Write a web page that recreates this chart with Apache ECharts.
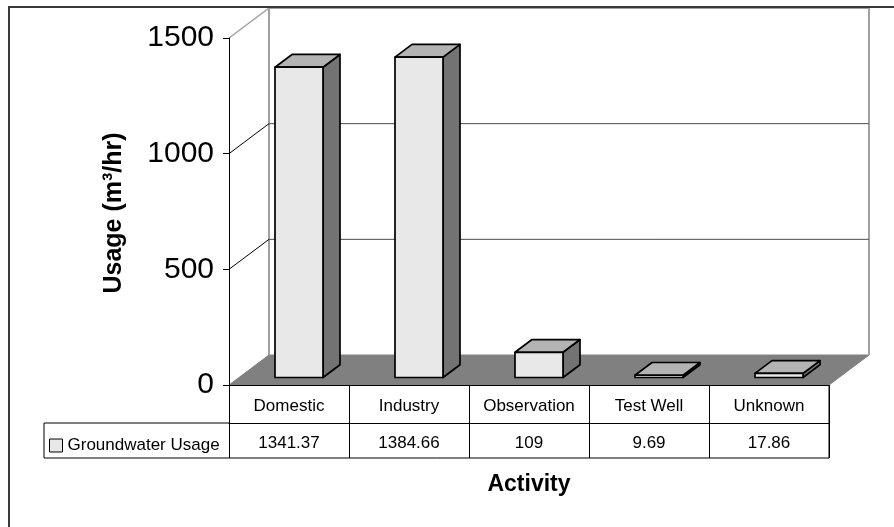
<!DOCTYPE html>
<html>
<head>
<meta charset="utf-8">
<title>Groundwater Usage by Activity</title>
<script src="https://cdn.jsdelivr.net/npm/echarts@6/dist/echarts.min.js"></script>
<style>
  html, body { margin: 0; padding: 0; background: #fff; }
  #chart { width: 894px; height: 527px; }
</style>
</head>
<body>
<div id="chart"></div>
<script>
// Data
const categories = ['Domestic', 'Industry', 'Observation', 'Test Well', 'Unknown'];
const usage = [1341.37, 1384.66, 109, 9.69, 17.86];
const usageLabels = ['1341.37', '1384.66', '109', '9.69', '17.86'];
const yTicks = [0, 500, 1000, 1500];
const seriesName = 'Groundwater Usage';

// 3D look: depth offset of the back wall, and where the columns sit in that depth
const DX = 40, DY = -30;
const FRONT = 0.25, BACK = 0.675;
const BAR_FRAC = 0.4;
const FONT = '"Liberation Sans", Arial, sans-serif';

const chart = echarts.init(document.getElementById('chart'), null, { renderer: 'canvas' });

function line(x1, y1, x2, y2, stroke, width) {
  return { type: 'line', shape: { x1, y1, x2, y2 }, style: { stroke, lineWidth: width }, silent: true };
}

// Floor, back wall, side-wall rungs and back gridlines
function renderWalls(params, api) {
  const bw = api.size([1, 0])[0];
  const p0 = api.coord([0, yTicks[0]]);
  const left = p0[0] - bw / 2;
  const right = api.coord([categories.length - 1, yTicks[0]])[0] + bw / 2;
  const y0 = p0[1];
  const yMax = api.coord([0, yTicks[yTicks.length - 1]])[1];
  const children = [];
  children.push({
    type: 'polygon',
    shape: { points: [[left, y0], [right, y0], [right + DX, y0 + DY], [left + DX, y0 + DY]] },
    style: { fill: '#808080', stroke: '#808080', lineWidth: 1 },
    silent: true
  });
  // back wall outline
  children.push(line(left + DX, yMax + DY, left + DX, y0 + DY, '#a0a0a0', 2));
  children.push(line(right + DX, yMax + DY, right + DX, y0 + DY, '#a0a0a0', 2));
  children.push(line(left + DX, yMax + DY, right + DX, yMax + DY, '#a0a0a0', 2));
  children.push(line(left, yMax, left + DX, yMax + DY, '#a0a0a0', 1.5));
  yTicks.slice(1, -1).forEach(t => {
    const yt = api.coord([0, t])[1];
    children.push(line(left, yt, left + DX, yt + DY, '#000', 1));
    children.push(line(left + DX, yt + DY, right + DX, yt + DY, '#4a4a4a', 1));
  });
  return { type: 'group', children };
}

// 3D columns: front, top and right-side faces
function renderBars(params, api) {
  const i = api.value(0);
  const v = api.value(1);
  const bw = api.size([1, 0])[0];
  const w = bw * BAR_FRAC;
  const base = api.coord([i, 0]);
  const top = api.coord([i, v]);
  const xL = base[0] - w / 2 + FRONT * DX;
  const xR = xL + w;
  const yB = base[1] + FRONT * DY;
  const yT = top[1] + FRONT * DY;
  const bdx = (BACK - FRONT) * DX, bdy = (BACK - FRONT) * DY;
  const edge = { stroke: '#000', lineWidth: 1.7, lineJoin: 'round' };
  return {
    type: 'group',
    children: [
      { type: 'polygon', shape: { points: [[xR, yB], [xR + bdx, yB + bdy], [xR + bdx, yT + bdy], [xR, yT]] },
        style: Object.assign({ fill: '#737373' }, edge) },
      { type: 'polygon', shape: { points: [[xL, yT], [xR, yT], [xR + bdx, yT + bdy], [xL + bdx, yT + bdy]] },
        style: Object.assign({ fill: '#b3b3b3' }, edge) },
      { type: 'polygon', shape: { points: [[xL, yB], [xR, yB], [xR, yT], [xL, yT]] },
        style: Object.assign({ fill: '#e8e8e8' }, edge) }
    ]
  };
}

const option = {
  animation: false,
  backgroundColor: '#fff',
  textStyle: { fontFamily: FONT, color: '#000' },
  grid: { left: 229, right: 65, top: 38, bottom: 142, containLabel: false },
  legend: {
    data: [seriesName],
    left: 49, top: 437,
    padding: 0,
    icon: 'rect',
    itemWidth: 13, itemHeight: 13,
    itemStyle: { color: '#e8e8e8', borderColor: '#000', borderWidth: 1 },
    textStyle: { fontFamily: FONT, fontSize: 17, color: '#000' },
    selectedMode: false
  },
  xAxis: [
    {
      type: 'category',
      data: categories,
      position: 'bottom',
      z: 5,
      axisLine: { show: true, lineStyle: { color: '#000', width: 1 } },
      axisTick: { show: true, interval: 0, length: 73, lineStyle: { color: '#000', width: 1 } },
      axisLabel: { interval: 0, margin: 13, fontSize: 17, color: '#000', fontFamily: FONT },
      splitLine: { show: false }
    },
    {
      type: 'category',
      data: usageLabels,
      position: 'bottom',
      offset: 38,
      z: 5,
      axisLine: { show: true, lineStyle: { color: '#000', width: 1 } },
      axisTick: { show: false },
      axisLabel: { interval: 0, margin: 12, fontSize: 17, color: '#000', fontFamily: FONT },
      splitLine: { show: false }
    }
  ],
  yAxis: {
    type: 'value',
    min: yTicks[0],
    max: yTicks[yTicks.length - 1],
    interval: yTicks[1] - yTicks[0],
    z: 5,
    axisLine: { show: true, lineStyle: { color: '#000', width: 1 } },
    axisTick: { show: true, length: 6, lineStyle: { color: '#000', width: 1 } },
    axisLabel: { margin: 15, fontSize: 30, color: '#000', fontFamily: FONT, formatter: v => String(v) },
    splitLine: { show: false }
  },
  graphic: [
    // outer chart frame
    { type: 'rect', shape: { x: 9, y: 7, width: 900, height: 540 },
      style: { fill: null, stroke: '#3a3a3a', lineWidth: 2 }, z: 10, silent: true },
    // data table: legend cell and bottom rule
    { type: 'line', shape: { x1: 44, y1: 423, x2: 229, y2: 423 }, style: { stroke: '#000', lineWidth: 1 }, silent: true },
    { type: 'line', shape: { x1: 44, y1: 458, x2: 829, y2: 458 }, style: { stroke: '#000', lineWidth: 1 }, silent: true },
    { type: 'line', shape: { x1: 44, y1: 423, x2: 44, y2: 458 }, style: { stroke: '#000', lineWidth: 1 }, silent: true },
    { type: 'line', shape: { x1: 829, y1: 385, x2: 829, y2: 458 }, style: { stroke: '#000', lineWidth: 1 }, silent: true },
    // axis titles
    { type: 'text', x: 529, y: 485,
      style: { text: 'Activity', fontFamily: FONT, fontSize: 23, fontWeight: 'bold', fill: '#000',
               align: 'center', verticalAlign: 'middle' }, silent: true },
    { type: 'text', x: 114, y: 213, rotation: Math.PI / 2,
      style: { text: 'Usage (m³/hr)', fontFamily: FONT, fontSize: 25, fontWeight: 'bold', fill: '#000',
               align: 'center', verticalAlign: 'middle' },
      silent: true }
  ],
  series: [
    {
      type: 'custom',
      name: 'walls',
      xAxisIndex: 0,
      z: 1,
      silent: true,
      data: [[0, 0]],
      renderItem: renderWalls
    },
    {
      type: 'custom',
      name: seriesName,
      xAxisIndex: 0,
      z: 3,
      itemStyle: { color: '#e8e8e8', borderColor: '#000', borderWidth: 1 },
      data: usage.map((v, i) => [i, v]),
      encode: { x: 0, y: 1 },
      renderItem: renderBars
    }
  ]
};

chart.setOption(option);
</script>
</body>
</html>
